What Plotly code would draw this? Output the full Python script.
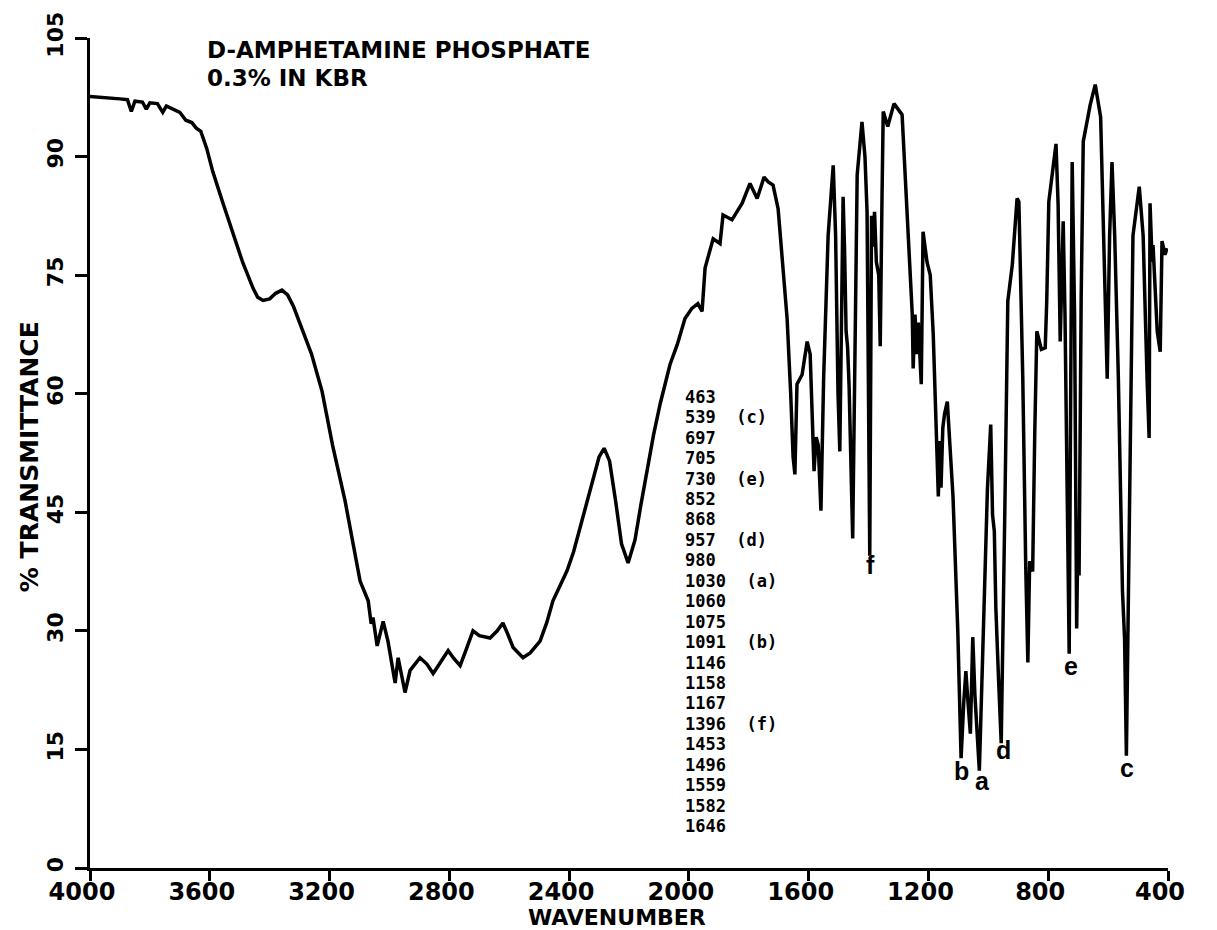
import plotly.graph_objects as go

# ---- spectrum data (wavenumber cm-1, % transmittance) ----
wn_a = [4000, 3950, 3900, 3875, 3862, 3850, 3825, 3812, 3800, 3775, 3757, 3745, 3720, 3700,
        3680, 3660, 3645, 3630, 3610, 3590, 3555, 3522, 3490, 3455, 3440, 3422, 3400, 3380,
        3359, 3340, 3320, 3300, 3260, 3225, 3190, 3148, 3115, 3098, 3071, 3061, 3055, 3041,
        3021, 3005, 2981, 2971, 2948, 2931, 2898, 2875, 2854, 2830, 2804, 2785, 2764, 2745,
        2721, 2700, 2664, 2640, 2621, 2605, 2587, 2554, 2530, 2497, 2475, 2454, 2430, 2407,
        2385, 2363, 2330, 2300, 2283, 2265, 2245, 2225, 2203, 2180, 2160, 2140, 2118, 2096,
        2063, 2039, 2013]
t_a = [97.6, 97.5, 97.3, 97.2, 95.7, 97.0, 96.9, 96.0, 96.8, 96.7, 95.6, 96.4, 96.0, 95.6,
       94.6, 94.3, 93.6, 93.2, 91.0, 88.1, 84.0, 80.1, 76.6, 73.3, 72.2, 71.8, 72.0, 72.7,
       73.1, 72.5, 71.0, 69.0, 65.0, 60.3, 53.5, 46.4, 39.7, 36.3, 33.8, 30.9, 31.7, 28.1,
       31.2, 28.7, 23.4, 26.6, 22.2, 25.0, 26.6, 25.8, 24.6, 26.0, 27.5, 26.5, 25.6, 27.5,
       30.0, 29.4, 29.1, 30.0, 31.0, 29.6, 27.9, 26.6, 27.2, 28.7, 31.0, 33.8, 35.8, 37.6,
       40.0, 43.0, 47.5, 52.0, 53.1, 51.5, 46.5, 41.0, 38.6, 41.5, 46.0, 50.2, 54.8, 58.7,
       63.7, 66.2, 69.5]

wn_b = [1990, 1970, 1956, 1946, 1919, 1896, 1886, 1856, 1822, 1796, 1772, 1749, 1735, 1719,
        1702, 1685, 1672, 1660, 1652, 1646, 1639, 1622, 1605, 1595, 1588, 1582, 1575, 1568,
        1559, 1550, 1535, 1518, 1510, 1502, 1496, 1490, 1485, 1480, 1475, 1470, 1465, 1453,
        1445, 1438, 1422, 1412, 1405]
t_b = [70.8, 71.4, 70.4, 75.9, 79.6, 79.0, 82.6, 82.0, 84.1, 86.6, 84.7, 87.4, 86.8, 86.4,
       83.4, 76.0, 69.5, 60.0, 52.0, 49.8, 61.2, 62.4, 66.6, 65.0, 56.0, 50.2, 54.5, 53.5,
       45.2, 62.0, 80.0, 88.9, 80.0, 60.0, 52.7, 70.0, 84.9, 78.0, 67.9, 65.9, 61.0, 41.7,
       70.0, 87.7, 94.4, 90.0, 83.0]

wn_c = [1396, 1390, 1385, 1380, 1374, 1366, 1361, 1355, 1351, 1336, 1315, 1288, 1271, 1254,
        1251, 1245, 1238, 1234, 1224, 1218, 1205, 1194, 1184, 1175, 1167, 1162, 1158, 1152,
        1146, 1137, 1128, 1118, 1102, 1091, 1082, 1075, 1068, 1060, 1052, 1045, 1030, 1015,
        1003, 992, 986, 980, 975, 966, 957, 945, 935, 920, 904]
t_c = [39.5, 82.5, 78.6, 83.0, 76.7, 75.0, 66.0, 85.0, 95.7, 93.8, 96.7, 95.3, 82.2, 70.0,
       63.2, 70.0, 65.0, 69.0, 61.2, 80.5, 76.7, 75.0, 67.5, 55.0, 47.0, 54.0, 48.1, 55.7,
       57.5, 59.0, 53.0, 47.0, 30.0, 13.9, 21.0, 24.9, 21.0, 17.0, 29.2, 22.0, 12.3, 33.0,
       48.0, 56.1, 44.7, 42.6, 33.0, 24.0, 15.8, 45.0, 71.7, 76.3, 84.7]

wn_d = [898, 885, 875, 868, 862, 852, 845, 838, 823, 810, 805, 798, 774, 767, 760, 750, 744,
        738, 730, 725, 720, 712, 705, 701, 697, 690, 683, 660, 643, 625, 617, 603, 595, 587,
        578, 566, 552, 545, 539, 532, 525, 517, 496, 483, 470, 463, 460, 453, 450, 436, 426,
        420, 410, 403]
t_d = [84.3, 62.0, 38.0, 26.0, 38.8, 37.5, 55.0, 67.9, 65.6, 65.8, 71.7, 84.3, 91.6, 84.0,
       66.6, 81.8, 70.0, 50.0, 27.1, 60.0, 89.3, 70.0, 30.3, 42.0, 37.0, 72.0, 91.9, 96.5,
       99.1, 95.0, 84.3, 61.9, 80.0, 89.3, 80.0, 62.4, 35.0, 29.0, 14.2, 35.0, 63.2, 80.0,
       86.2, 80.0, 62.0, 54.4, 84.1, 76.7, 78.8, 67.9, 65.3, 79.3, 77.6, 78.4]

assert len(wn_a) == len(t_a) and len(wn_b) == len(t_b)
assert len(wn_c) == len(t_c) and len(wn_d) == len(t_d)

wavenumber = wn_a + wn_b + wn_c + wn_d
transmittance = t_a + t_b + t_c + t_d

# ---- axis ticks ----
x_ticks = [4000, 3600, 3200, 2800, 2400, 2000, 1600, 1200, 800, 400]
y_ticks = [0, 15, 30, 45, 60, 75, 90, 105]

# ---- text content ----
title_lines = ["D-AMPHETAMINE PHOSPHATE", "0.3% IN KBR"]
peak_list = ["463", "539", "697", "705", "730", "852", "868", "957", "980", "1030", "1060",
             "1075", "1091", "1146", "1158", "1167", "1396", "1453", "1496", "1559", "1582",
             "1646"]
peak_tags = {"539": "c", "730": "e", "957": "d", "1030": "a", "1091": "b", "1396": "f"}
# letter labels placed under the labelled bands (wavenumber, %T)
letter_labels = [("f", 1395, 38.3), ("b", 1088, 12.3), ("a", 1021, 11.0),
                 ("d", 951, 14.9), ("e", 723, 25.6), ("c", 536, 12.7)]

PLOT_FONT = "DejaVu Sans"
LIST_FONT = "DejaVu Sans Mono"

fig = go.Figure()
fig.add_trace(go.Scatter(
    x=wavenumber, y=transmittance, mode="lines",
    line=dict(color="black", width=3.5),
    hoverinfo="skip", showlegend=False,
))

annotations = []
# title
for k, line in enumerate(title_lines):
    annotations.append(dict(text="<b>" + line + "</b>", xref="paper", yref="paper",
                            x=0.1067, y=0.994 - 0.034 * k, yshift=8, xanchor="left",
                            yanchor="top", showarrow=False,
                            font=dict(family=PLOT_FONT, size=23, color="black")))
# axis titles
annotations.append(dict(text="<b>% TRANSMITTANCE</b>", xref="paper", yref="paper",
                        x=0, xshift=-61, y=0.495, xanchor="center", yanchor="middle",
                        textangle=-90, showarrow=False,
                        font=dict(family=PLOT_FONT, size=25, color="black")))
annotations.append(dict(text="<b>WAVENUMBER</b>", xref="paper", yref="paper",
                        x=0.489, y=0, yshift=-49, xanchor="center", yanchor="middle",
                        showarrow=False,
                        font=dict(family=PLOT_FONT, size=22, color="black")))
# peak list
for i, p in enumerate(peak_list):
    txt = p
    if p in peak_tags:
        txt = p + "\u00a0\u00a0(" + peak_tags[p] + ")"
    annotations.append(dict(text="<b>" + txt + "</b>", xref="x", yref="y",
                            x=2020, y=59.6 - 2.585 * i, xanchor="left", yanchor="middle",
                            showarrow=False,
                            font=dict(family=LIST_FONT, size=17, color="black")))
# band letters
for letter, xw, yt in letter_labels:
    annotations.append(dict(text="<b>" + letter + "</b>", xref="x", yref="y",
                            x=xw, y=yt, xanchor="center", yanchor="middle", showarrow=False,
                            font=dict(family="Liberation Sans", size=25, color="black")))

fig.update_layout(
    width=1217, height=930,
    margin=dict(l=90, r=49, t=34, b=62),
    paper_bgcolor="white", plot_bgcolor="white",
    annotations=annotations,
    xaxis=dict(range=[4000, 400], tickvals=x_ticks, ticktext=[str(v) for v in x_ticks],
               showgrid=False, zeroline=False, showline=True, linecolor="black", linewidth=3,
               ticks="outside", ticklen=10, tickwidth=3, tickcolor="black",
               ticklabelshift=8, ticklabelstandoff=-10,
               tickfont=dict(family=PLOT_FONT, size=24, color="black", weight="bold")),
    yaxis=dict(range=[0, 105], tickvals=y_ticks, ticktext=[str(v) for v in y_ticks],
               showgrid=False, zeroline=False, showline=True, linecolor="black", linewidth=3,
               ticks="outside", ticklen=12, tickwidth=3, tickcolor="black",
               tickangle=-90, ticklabelstandoff=3,
               tickfont=dict(family=PLOT_FONT, size=22, color="black", weight="bold")),
)

fig.write_html("out.html")
